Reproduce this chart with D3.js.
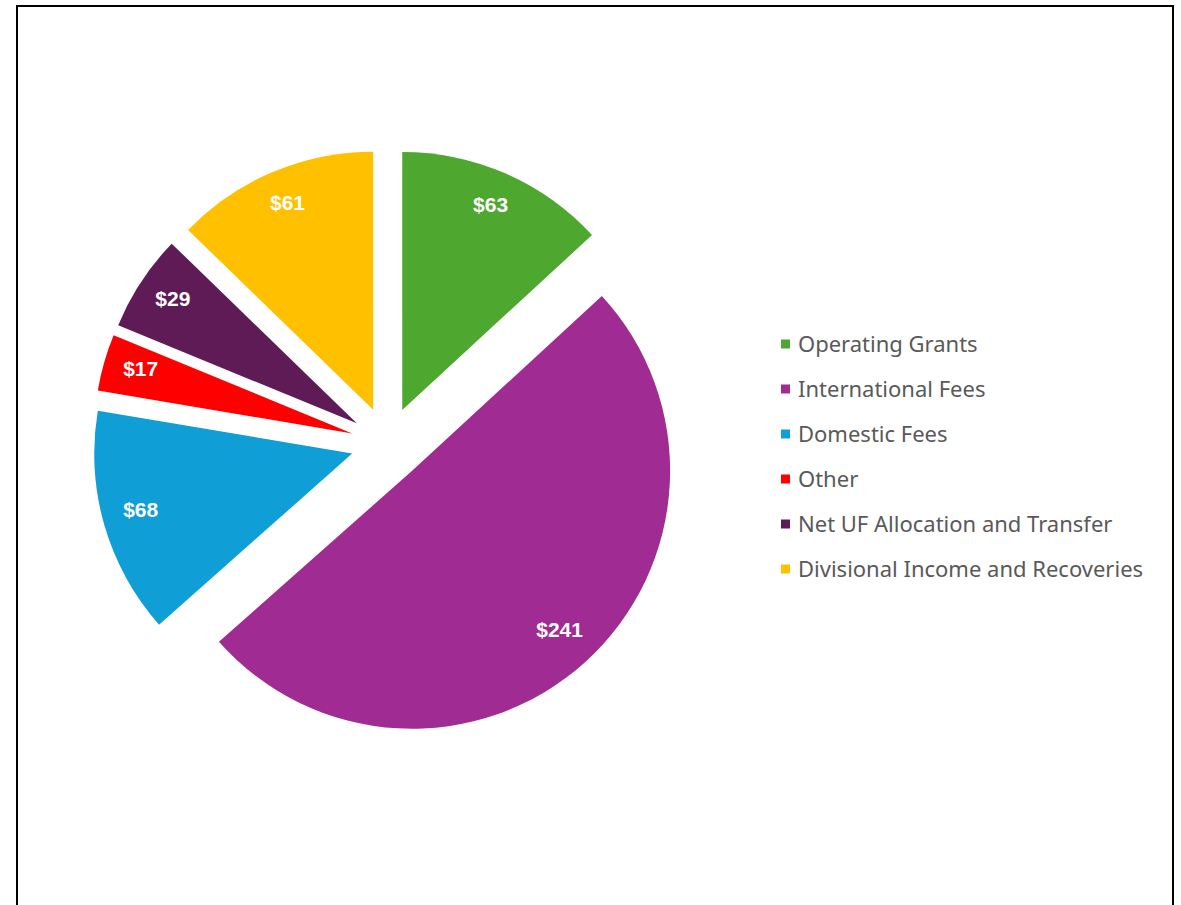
<!DOCTYPE html>
<html>
<head>
<meta charset="utf-8">
<script src="https://cdn.jsdelivr.net/npm/d3@7"></script>
<style>
  body { margin: 0; background: #fff; }
</style>
</head>
<body>
<script>
// revenue by source (millions)
const categories = ['Operating Grants', 'International Fees', 'Domestic Fees', 'Other',
  'Net UF Allocation and Transfer', 'Divisional Income and Recoveries'];
const values = [63, 241, 68, 17, 29, 61];
const colors = ['#4EA72E', '#A02B93', '#0F9ED5', '#FF0000', '#5F1B56', '#FFC000'];

const width = 1181, height = 905;
const cx = 387.5, cy = 443.5;
const radius = 258;
const explode = 36.7;
const labelR = 220;

const svg = d3.select('body').append('svg')
  .attr('width', width)
  .attr('height', height);

svg.append('rect')
  .attr('width', width).attr('height', height)
  .attr('fill', '#fff');

// chart frame, bottom edge runs off the page
svg.append('rect')
  .attr('x', 17).attr('y', 6)
  .attr('width', 1156).attr('height', 930)
  .attr('fill', 'none')
  .attr('stroke', '#000')
  .attr('stroke-width', 2);

const pie = d3.pie().sort(null).value((d) => d);
const arcs = pie(values);

const arc = d3.arc().innerRadius(0).outerRadius(radius);
const labelArc = d3.arc().innerRadius(labelR).outerRadius(labelR);

const g = svg.append('g').attr('transform', `translate(${cx},${cy})`);

const slices = g.selectAll('.slice')
  .data(arcs)
  .enter()
  .append('g')
  .attr('class', 'slice')
  .attr('transform', (d) => {
    const a = (d.startAngle + d.endAngle) / 2;
    return `translate(${explode * Math.sin(a)},${-explode * Math.cos(a)})`;
  });

slices.append('path')
  .attr('d', arc)
  .attr('fill', (d, i) => colors[i]);

slices.append('text')
  .attr('transform', (d) => {
    const [x, y] = labelArc.centroid(d);
    return `translate(${x},${y - 4})`;
  })
  .attr('text-anchor', 'middle')
  .attr('dy', '0.35em')
  .attr('fill', '#fff')
  .style('font-family', '"Liberation Sans", Arial, sans-serif')
  .style('font-weight', 'bold')
  .style('font-size', '21px')
  .text((d) => '$' + d.value);

// legend
const legend = svg.append('g').attr('transform', 'translate(781,344)');
const rows = legend.selectAll('.row')
  .data(categories)
  .enter()
  .append('g')
  .attr('class', 'row')
  .attr('transform', (d, i) => `translate(0,${i * 45})`);

rows.append('rect')
  .attr('x', 0).attr('y', -4.5)
  .attr('width', 9).attr('height', 9)
  .attr('fill', (d, i) => colors[i]);

rows.append('text')
  .attr('x', 17)
  .attr('dy', '0.35em')
  .attr('fill', '#595959')
  .style('font-family', '"Noto Sans", sans-serif')
  .style('font-size', '22px')
  .text((d) => d);
</script>
</body>
</html>
